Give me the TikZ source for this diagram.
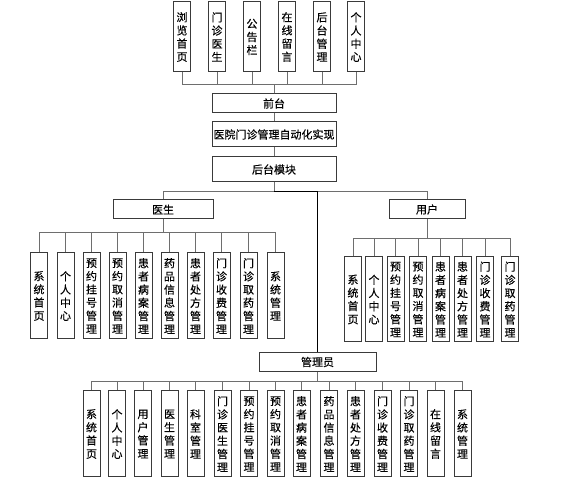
\documentclass[tikz,border=0pt]{standalone}
\usepackage{fontspec}
\newfontfamily\cjk[FakeBold=0.3]{Noto Sans CJK SC}
\usetikzlibrary{positioning}
\definecolor{cline}{HTML}{6E6E6E}
\definecolor{cedge}{HTML}{3A3A3A}
\tikzset{
  every picture/.style={x=1pt, y=-1pt, font=\cjk\fontsize{11}{13.2}\selectfont},
  box/.style={draw=cedge, fill=white, line width=1pt, inner sep=0pt, align=center},
  wide/.style={box, minimum width=124pt, minimum height=#1},
  wide/.default=25pt,
  group/.style={box, minimum height=19pt},
  leaf/.style={box, minimum width=17pt, minimum height=#1},
  leaf/.default=86pt,
  link/.style={draw=cline, line width=1pt},
  trunk/.style={draw=black, line width=1pt},
}

\begin{document}
\begin{tikzpicture}
  \useasboundingbox (0,0) rectangle (566,486);
  % front pages
  \node[leaf=70pt] (q1) at (182,37) {浏\\览\\首\\页};
  \node[leaf=70pt] (q2) at (217,37) {门\\诊\\医\\生};
  \node[leaf=70pt] (q3) at (252,37) {公\\告\\栏};
  \node[leaf=70pt] (q4) at (287,37) {在\\线\\留\\言};
  \node[leaf=70pt] (q5) at (322,37) {后\\台\\管\\理};
  \node[leaf=70pt] (q6) at (356,37) {个\\人\\中\\心};
  % main column
  \node[wide=19pt] (front) at (274,103.5) {前台};
  \node[wide] (sys) at (274,134.5) {医院门诊管理自动化实现};
  \node[wide] (back) at (274,169.5) {后台模块};
  \draw[link] (front.north) -- ++(0,-9) -| (q1.south);
  \draw[link] (front.north) -- ++(0,-9) -| (q2.south);
  \draw[link] (front.north) -- ++(0,-9) -| (q3.south);
  \draw[link] (front.north) -- ++(0,-9) -| (q4.south);
  \draw[link] (front.north) -- ++(0,-9) -| (q5.south);
  \draw[link] (front.north) -- ++(0,-9) -| (q6.south);
  \draw[link] (front) -- (sys);
  \draw[link] (sys) -- (back);
  % roles
  \node[group, minimum width=100pt] (doc) at (163,209.5) {医生};
  \node[group, minimum width=76pt] (usr) at (427,209.5) {用户};
  \node[group, minimum width=117pt] (adm) at (317.5,362) {管理员};
  \draw[link] (back.south) -- ++(0,9) -| (doc.north);
  \draw[link] (back.south) -- ++(0,9) -| (usr.north);
  \draw[trunk] (back.south) ++(0,9) -| (adm.north);
  % doctor
  \node[leaf] (d1) at (39,296) {系\\统\\首\\页};
  \node[leaf] (d2) at (65.5,296) {个\\人\\中\\心};
  \node[leaf] (d3) at (91.5,296) {预\\约\\挂\\号\\管\\理};
  \node[leaf] (d4) at (117.5,296) {预\\约\\取\\消\\管\\理};
  \node[leaf] (d5) at (143.5,296) {患\\者\\病\\案\\管\\理};
  \node[leaf] (d6) at (169.5,296) {药\\品\\信\\息\\管\\理};
  \node[leaf] (d7) at (195.5,296) {患\\者\\处\\方\\管\\理};
  \node[leaf] (d8) at (221.5,296) {门\\诊\\收\\费\\管\\理};
  \node[leaf] (d9) at (248.5,296) {门\\诊\\取\\药\\管\\理};
  \node[leaf] (d10) at (275.5,296) {系\\统\\管\\理};
  \draw[link] (doc.south) -- ++(0,13) -| (d1.north);
  \draw[link] (doc.south) -- ++(0,13) -| (d2.north);
  \draw[link] (doc.south) -- ++(0,13) -| (d3.north);
  \draw[link] (doc.south) -- ++(0,13) -| (d4.north);
  \draw[link] (doc.south) -- ++(0,13) -| (d5.north);
  \draw[link] (doc.south) -- ++(0,13) -| (d6.north);
  \draw[link] (doc.south) -- ++(0,13) -| (d7.north);
  \draw[link] (doc.south) -- ++(0,13) -| (d8.north);
  \draw[link] (doc.south) -- ++(0,13) -| (d9.north);
  \draw[link] (doc.south) -- ++(0,13) -| (d10.north);
  % user
  \node[leaf=85pt] (u1) at (353,299.5) {系\\统\\首\\页};
  \node[leaf=85pt] (u2) at (374,299.5) {个\\人\\中\\心};
  \node[leaf=85pt] (u3) at (395.5,299.5) {预\\约\\挂\\号\\管\\理};
  \node[leaf=85pt] (u4) at (418,299.5) {预\\约\\取\\消\\管\\理};
  \node[leaf=85pt] (u5) at (440.5,299.5) {患\\者\\病\\案\\管\\理};
  \node[leaf=85pt] (u6) at (462.5,299.5) {患\\者\\处\\方\\管\\理};
  \node[leaf=85pt] (u7) at (485,299.5) {门\\诊\\收\\费\\管\\理};
  \node[leaf=85pt] (u8) at (510,299.5) {门\\诊\\取\\药\\管\\理};
  \draw[link] (usr.south) -- ++(0,19) -| (u1.north);
  \draw[link] (usr.south) -- ++(0,19) -| (u2.north);
  \draw[link] (usr.south) -- ++(0,19) -| (u3.north);
  \draw[link] (usr.south) -- ++(0,19) -| (u4.north);
  \draw[link] (usr.south) -- ++(0,19) -| (u5.north);
  \draw[link] (usr.south) -- ++(0,19) -| (u6.north);
  \draw[link] (usr.south) -- ++(0,19) -| (u7.north);
  \draw[link] (usr.south) -- ++(0,19) -| (u8.north);
  % admin
  \node[leaf] (a1) at (91.5,434) {系\\统\\首\\页};
  \node[leaf] (a2) at (117,434) {个\\人\\中\\心};
  \node[leaf] (a3) at (143,434) {用\\户\\管\\理};
  \node[leaf] (a4) at (169.5,434) {医\\生\\管\\理};
  \node[leaf] (a5) at (195.5,434) {科\\室\\管\\理};
  \node[leaf] (a6) at (222.5,434) {门\\诊\\医\\生\\管\\理};
  \node[leaf] (a7) at (249,434) {预\\约\\挂\\号\\管\\理};
  \node[leaf] (a8) at (275.5,434) {预\\约\\取\\消\\管\\理};
  \node[leaf] (a9) at (301.5,434) {患\\者\\病\\案\\管\\理};
  \node[leaf] (a10) at (329,434) {药\\品\\信\\息\\管\\理};
  \node[leaf] (a11) at (355.5,434) {患\\者\\处\\方\\管\\理};
  \node[leaf] (a12) at (382.5,434) {门\\诊\\收\\费\\管\\理};
  \node[leaf] (a13) at (409,434) {门\\诊\\取\\药\\管\\理};
  \node[leaf] (a14) at (435.5,434) {在\\线\\留\\言};
  \node[leaf] (a15) at (462.5,434) {系\\统\\管\\理};
  \draw[link] (adm.south) -- ++(0,10) -| (a1.north);
  \draw[link] (adm.south) -- ++(0,10) -| (a2.north);
  \draw[link] (adm.south) -- ++(0,10) -| (a3.north);
  \draw[link] (adm.south) -- ++(0,10) -| (a4.north);
  \draw[link] (adm.south) -- ++(0,10) -| (a5.north);
  \draw[link] (adm.south) -- ++(0,10) -| (a6.north);
  \draw[link] (adm.south) -- ++(0,10) -| (a7.north);
  \draw[link] (adm.south) -- ++(0,10) -| (a8.north);
  \draw[link] (adm.south) -- ++(0,10) -| (a9.north);
  \draw[link] (adm.south) -- ++(0,10) -| (a10.north);
  \draw[link] (adm.south) -- ++(0,10) -| (a11.north);
  \draw[link] (adm.south) -- ++(0,10) -| (a12.north);
  \draw[link] (adm.south) -- ++(0,10) -| (a13.north);
  \draw[link] (adm.south) -- ++(0,10) -| (a14.north);
  \draw[link] (adm.south) -- ++(0,10) -| (a15.north);
\end{tikzpicture}
\end{document}
